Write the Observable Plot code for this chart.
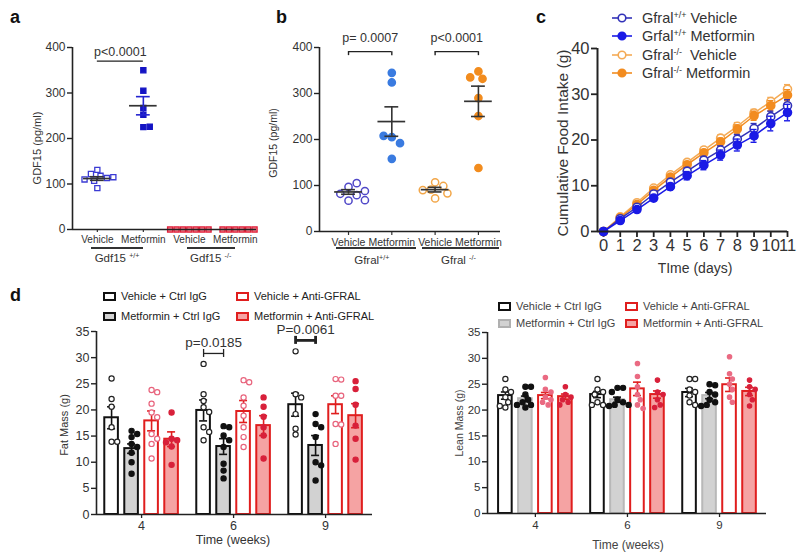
<!DOCTYPE html>
<html><head><meta charset="utf-8">
<script src="https://cdn.jsdelivr.net/npm/d3@7"></script>
<script src="https://cdn.jsdelivr.net/npm/@observablehq/plot@0.6"></script>
<style>
body{margin:0;background:#fff}
#root{position:relative;width:800px;height:560px;overflow:hidden;background:#fff;font-family:"Liberation Sans",Arial,Helvetica,sans-serif;color:#333}
sup{font-size:0.62em;vertical-align:0.55em;line-height:0}
</style></head>
<body><div id="root"></div>
<script>
// ---------------- DATA ----------------
// Panel a
const aCats = ["Vehicle", "Metformin", "Vehicle", "Metformin"];
const aGroups = ["Gdf15 <sup>+/+</sup>", "Gdf15 <sup>-/-</sup>"];
const aWtVeh = [131, 118, 122, 113, 110, 107, 91, 115];
const aWtMet = [350, 305, 267, 252, 225, 226];
const aKoVeh = [0, 0, 0, 0, 0, 0, 0];
const aKoMet = [0, 0, 0, 0, 0, 0];
const aMean = [112, 272, 0, 0];
const aSem = [4, 20, 0, 0];
const aYTicks = [0, 100, 200, 300, 400];
const aSig = [{a: 0, b: 1, y: 370, label: "p<0.0001"}];

// Panel b
const bCats = ["Vehicle", "Metformin", "Vehicle", "Metformin"];
const bGroups = ["Gfral<sup>+/+</sup>", "Gfral <sup>-/-</sup>"];
const bWtVeh = [97, 67, 79, 82, 105, 88, 68];
const bWtMet = [345, 324, 205, 192, 208, 158];
const bKoVeh = [107, 99, 91, 72, 83, 90];
const bKoMet = [348, 332, 335, 290, 251, 138];
const bMean = [86, 239, 91, 283];
const bSem = [5, 32, 5, 33];
const bYTicks = [0, 100, 200, 300, 400];
const bSig = [{a: 0, b: 1, y: 391, label: "p= 0.0007"}, {a: 2, b: 3, y: 391, label: "p<0.0001"}];

// Panel c
const cDays = [0, 1, 2, 3, 4, 5, 6, 7, 8, 9, 10, 11];
const cNames = ["Gfral<sup>+/+</sup> Vehicle", "Grfal<sup>+/+</sup> Metformin", "Gfral<sup>-/-</sup>&nbsp; Vehicle", "Gfral<sup>-/-</sup> Metformin"];
const cWtVeh = [0, 2.8, 5.3, 8.2, 10.8, 13.2, 15.6, 17.8, 20.2, 22.5, 25.1, 27.5];
const cWtMet = [0, 2.4, 4.8, 7.3, 9.8, 12.2, 14.5, 16.7, 18.9, 20.9, 23.6, 26.0];
const cKoVeh = [0, 3.2, 6.3, 9.5, 12.4, 15.1, 17.8, 20.4, 23.0, 25.9, 28.4, 31.1];
const cKoMet = [0, 3.0, 5.9, 9.0, 11.9, 14.6, 17.2, 19.6, 22.4, 25.3, 27.5, 29.8];
const cWtVehSem = [0, 0.3, 0.4, 0.5, 0.6, 0.7, 0.8, 0.9, 1.0, 1.1, 1.2, 1.3];
const cWtMetSem = [0, 0.4, 0.5, 0.6, 0.7, 0.9, 1.0, 1.1, 1.3, 1.4, 1.6, 1.8];
const cKoVehSem = [0, 0.3, 0.3, 0.4, 0.5, 0.5, 0.6, 0.7, 0.8, 0.8, 0.9, 1.0];
const cKoMetSem = [0, 0.3, 0.4, 0.5, 0.5, 0.6, 0.7, 0.8, 0.9, 1.0, 1.1, 1.2];
const cYTicks = [0, 10, 20, 30, 40];

// Panel d
const dWeeks = ["4", "6", "9"];
const dSeries = ["Vehicle + Ctrl IgG", "Metformin + Ctrl IgG", "Vehicle + Anti-GFRAL", "Metformin + Anti-GFRAL"];
const dYTicks = [0, 5, 10, 15, 20, 25, 30, 35];
const fatMean = [[18.5, 12.6, 17.9, 14.4], [19.9, 13.0, 19.7, 17.0], [21.0, 13.2, 21.0, 18.9]];
const fatSem = [[2.1, 0.9, 1.9, 1.4], [2.0, 1.5, 2.1, 1.9], [2.2, 1.9, 1.7, 2.3]];
const fatPoints = [
  [[26.0, 22.1, 20.6, 16.7, 13.9, 13.9], [16.0, 15.4, 14.8, 13.5, 12.9, 11.8, 10.0, 7.8], [23.8, 23.4, 21.2, 19.5, 18.6, 15.4, 14.5, 13.5, 10.7], [19.5, 14.5, 14.2, 13.8, 13.0, 9.5]],
  [[28.8, 23.0, 21.7, 20.5, 19.6, 16.7, 15.8, 14.2], [16.9, 16.7, 15.1, 14.2, 12.9, 9.7, 8.4, 6.9], [25.7, 25.3, 22.4, 20.8, 18.9, 16.7, 14.8, 12.9], [22.4, 20.6, 18.7, 16.7, 15.1, 10.7]],
  [[31.2, 23.0, 22.4, 19.2, 16.4, 15.3], [19.2, 17.3, 16.7, 14.8, 10.0, 9.4, 6.5], [25.9, 25.8, 22.7, 22.7, 17.3, 17.2, 13.5], [25.5, 24.0, 21.0, 17.0, 14.5, 10.5]]
];
const fatSig = [{g: 1, a: 0, b: 1, y: 30.8, label: "p=0.0185", w: 1.3}, {g: 2, a: 0, b: 1, y: 33.3, label: "P=0.0061", w: 2.8}];
const leanMean = [[22.8, 22.2, 22.8, 22.6], [23.0, 22.0, 24.1, 23.0], [23.4, 22.8, 24.9, 23.6]];
const leanSem = [[0.7, 0.5, 0.6, 0.5], [0.6, 0.5, 1.3, 0.7], [0.8, 0.6, 1.3, 0.8]];
const leanPoints = [
  [[26.0, 24.0, 23.5, 22.5, 21.5, 20.5, 20.8], [24.5, 24.5, 23.0, 22.0, 21.5, 21.0, 21.0, 20.5], [26.3, 24.0, 23.5, 22.5, 22.0, 21.5, 21.0], [24.5, 23.0, 22.5, 22.0, 21.5, 21.0]],
  [[26.0, 24.0, 23.5, 23.0, 21.5, 21.0, 21.0], [24.3, 24.3, 23.5, 22.0, 21.5, 21.0, 21.0, 20.8], [29.0, 26.5, 24.5, 23.0, 22.0, 21.0, 20.3], [25.8, 23.5, 23.0, 22.0, 21.0, 20.5]],
  [[26.0, 26.0, 24.0, 23.5, 22.8, 21.5, 21.0], [25.0, 24.8, 23.5, 23.0, 22.0, 21.5, 21.0, 20.8], [30.3, 27.0, 26.0, 25.0, 24.0, 22.5, 21.5], [25.8, 24.5, 24.0, 23.0, 22.0, 20.8]]
];

// ---------------- HELPERS ----------------
const FONT = '"Liberation Sans", Arial, Helvetica, sans-serif';
const root = document.getElementById("root");
function put(node, left, top) { node.style.position = "absolute"; node.style.left = left + "px"; node.style.top = top + "px"; root.appendChild(node); return node; }
function txt(html, x, y, css = {}, center = false) {
  const el = document.createElement("div");
  el.innerHTML = html;
  Object.assign(el.style, {position: "absolute", left: x + "px", top: y + "px", whiteSpace: "nowrap", lineHeight: "1",
    transform: center ? "translate(-50%,-50%)" : "translate(0,-50%)"}, css);
  root.appendChild(el); return el;
}
function vtxt(html, x, y, css = {}) { const el = txt(html, x, y, css, true); el.style.transform = "translate(-50%,-50%) rotate(-90deg)"; return el; }
function hline(x1, x2, y, color = "#333", w = 1.3) {
  const el = document.createElement("div");
  Object.assign(el.style, {position: "absolute", left: x1 + "px", top: (y - w / 2) + "px", width: (x2 - x1) + "px", height: w + "px", background: color});
  root.appendChild(el);
}
// simple beeswarm: horizontal pixel offsets so that points do not overlap
function swarm(vals, pxPerY, d) {
  const placed = [];
  return vals.map(v => {
    const y = v * pxPerY;
    for (let k = 0; k < 400; k++) {
      const off = (k % 2 ? 1 : -1) * Math.ceil(k / 2) * d / 2;
      if (placed.every(p => Math.hypot(p.x - off, p.y - y) >= d)) { placed.push({x: off, y}); return off; }
    }
    return 0;
  });
}
const baseStyle = {fontFamily: FONT, fontSize: "12px", color: "#333", overflow: "visible", background: "none"};

// ---------------- PANEL A ----------------
{
  const W = 270, H = 270, mL = 72, mR = 14, mT = 47, mB = 41;
  const xd = [-0.54, 3.46];
  const pxX = (W - mL - mR) / (xd[1] - xd[0]);
  const pxY = (H - mT - mB) / 400;
  const groups = [aWtVeh, aWtMet, aKoVeh, aKoMet];
  const styles = [
    {fill: "white", stroke: "#3b3bd4"}, {fill: "#1414c4", stroke: "#1414c4"},
    {fill: "#f07a88", stroke: "#e0203a"}, {fill: "#f07a88", stroke: "#e0203a"}];
  const semColor = ["#333", "#2424d0", "#333", "#333"];
  const dotMarks = groups.map((vals, i) => {
    const offs = swarm(vals, pxY, 6.4);
    const data = vals.map((v, j) => ({x: i + offs[j] / pxX, v}));
    return Plot.dot(data, {x: "x", y: "v", symbol: "square", r: 2.9, strokeWidth: 1.3, ...styles[i]});
  });
  const md = aMean.map((m, i) => ({i, m, s: aSem[i], c: semColor[i]}));
  const p = Plot.plot({
    width: W, height: H, marginLeft: mL, marginRight: mR, marginTop: mT, marginBottom: mB,
    x: {domain: xd, axis: null}, y: {domain: [0, 400], axis: null}, style: baseStyle,
    marks: [
      Plot.axisY({ticks: aYTicks, tickSize: 5, strokeWidth: 1.4, stroke: "#222", fontSize: 12, tickPadding: 2, label: null}),
      Plot.axisX({ticks: [0, 1, 2, 3], tickFormat: i => aCats[i], tickSize: 3, strokeWidth: 1.2, fontSize: 10, tickPadding: 3, label: null}),
      ...dotMarks,
      ...md.filter(d => d.m > 0).map(d => Plot.ruleY([d], {x1: d.i - 0.3, x2: d.i + 0.3, y: "m", stroke: "#333", strokeWidth: 1.7})),
      ...md.filter(d => d.m > 0).map(d => Plot.ruleX([d], {x: "i", y1: d.m - d.s, y2: d.m + d.s, stroke: d.c, strokeWidth: 1.6})),
      ...md.filter(d => d.m > 0).map(d => Plot.ruleY([d.m - d.s, d.m + d.s], {x1: d.i - 0.15, x2: d.i + 0.15, stroke: d.c, strokeWidth: 1.6})),
      Plot.ruleY(aSig, {x1: "a", x2: "b", y: "y", stroke: "#222", strokeWidth: 1.4}),
      Plot.text(aSig, {x: d => (d.a + d.b) / 2, y: d => d.y + 20, text: "label", fontSize: 12.5, fill: "#333"}),
      Plot.ruleY([0], {stroke: "#222", strokeWidth: 1.6}),
      Plot.ruleX([xd[0]], {y1: 0, y2: 400, stroke: "#222", strokeWidth: 1.6})
    ]
  });
  put(p, 0, 0);
  const sx = p.scale("x");
  const spans = [[-0.12, 1.0], [1.95, 3.0]];
  spans.forEach((s, k) => {
    const x1 = sx.apply(s[0]), x2 = sx.apply(s[1]);
    hline(x1, x2, 248, "#333", 1.3);
    txt(aGroups[k], (x1 + x2) / 2, 259, {fontSize: "11.5px", color: "#333"}, true);
  });
  vtxt("GDF15 (pg/ml)", 37, 148, {fontSize: "11px", color: "#333"});
  txt("a", 10, 17, {fontSize: "18px", fontWeight: "bold", color: "#111"});
}

// ---------------- PANEL B ----------------
{
  const L = 260, W = 260, H = 270, mL = 59, mR = 20, mT = 47, mB = 39;
  const xd = [-0.67, 3.51];
  const pxX = (W - mL - mR) / (xd[1] - xd[0]);
  const pxY = (H - mT - mB) / 400;
  const groups = [bWtVeh, bWtMet, bKoVeh, bKoMet];
  const styles = [
    {fill: "white", stroke: "#5048c8"}, {fill: "#3a7be0", stroke: "#3a7be0"},
    {fill: "white", stroke: "#f2a648"}, {fill: "#f28c1e", stroke: "#f28c1e"}];
  const dotMarks = groups.map((vals, i) => {
    const offs = swarm(vals, pxY, 8.2);
    const data = vals.map((v, j) => ({x: i + offs[j] / pxX, v}));
    return Plot.dot(data, {x: "x", y: "v", r: 3.6, strokeWidth: 1.5, ...styles[i]});
  });
  const md = bMean.map((m, i) => ({i, m, s: bSem[i]}));
  const tk = 4 / pxY;
  const p = Plot.plot({
    width: W, height: H, marginLeft: mL, marginRight: mR, marginTop: mT, marginBottom: mB,
    x: {domain: xd, axis: null}, y: {domain: [0, 400], axis: null}, style: baseStyle,
    marks: [
      Plot.axisY({ticks: bYTicks, tickSize: 5, strokeWidth: 1.4, stroke: "#222", fontSize: 12, tickPadding: 2, label: null}),
      Plot.axisX({ticks: [0, 1, 2, 3], tickFormat: i => bCats[i], tickSize: 4, strokeWidth: 1.2, fontSize: 10.5, tickPadding: 3, label: null}),
      ...dotMarks,
      Plot.ruleY(md, {x1: d => d.i - 0.32, x2: d => d.i + 0.32, y: "m", stroke: "#333", strokeWidth: 1.7}),
      Plot.ruleX(md, {x: "i", y1: d => d.m - d.s, y2: d => d.m + d.s, stroke: "#333", strokeWidth: 1.6}),
      Plot.ruleY(md, {x1: d => d.i - 0.16, x2: d => d.i + 0.16, y: d => d.m - d.s, stroke: "#333", strokeWidth: 1.6}),
      Plot.ruleY(md, {x1: d => d.i - 0.16, x2: d => d.i + 0.16, y: d => d.m + d.s, stroke: "#333", strokeWidth: 1.6}),
      Plot.ruleY(bSig, {x1: "a", x2: "b", y: "y", stroke: "#222", strokeWidth: 1.4}),
      Plot.ruleX(bSig, {x: "a", y1: "y", y2: d => d.y - tk, stroke: "#222", strokeWidth: 1.4}),
      Plot.ruleX(bSig, {x: "b", y1: "y", y2: d => d.y - tk, stroke: "#222", strokeWidth: 1.4}),
      Plot.text(bSig, {x: d => (d.a + d.b) / 2, y: d => d.y + 30, text: "label", fontSize: 12.5, fill: "#333"}),
      Plot.ruleY([0], {stroke: "#222", strokeWidth: 1.6}),
      Plot.ruleX([xd[0]], {y1: 0, y2: 400, stroke: "#222", strokeWidth: 1.6})
    ]
  });
  put(p, L, 0);
  const sx = p.scale("x");
  const spans = [[-0.27, 1.57], [1.72, 3.48]];
  const lbl = [0.55, 2.55];
  spans.forEach((s, k) => {
    const x1 = L + sx.apply(s[0]), x2 = L + sx.apply(s[1]);
    hline(x1, x2, 248, "#333", 1.3);
    txt(bGroups[k], L + sx.apply(lbl[k]), 261, {fontSize: "11.5px", color: "#333"}, true);
  });
  vtxt("GDF15 (pg/ml)", 273, 143, {fontSize: "10.5px", color: "#333"});
  txt("b", 276, 17, {fontSize: "18px", fontWeight: "bold", color: "#111"});
}

// ---------------- PANEL C ----------------
{
  const L = 520, W = 280, H = 280, mL = 77, mR = 13, mT = 48, mB = 49;
  const xd = [-0.36, 11];
  const series = [
    {v: cKoVeh, s: cKoVehSem, color: "#f4aa55", open: true},
    {v: cKoMet, s: cKoMetSem, color: "#f28c20", open: false},
    {v: cWtVeh, s: cWtVehSem, color: "#3232b8", open: true},
    {v: cWtMet, s: cWtMetSem, color: "#1a1ae6", open: false}];
  const marks = [];
  series.forEach(se => {
    const data = cDays.map((d, i) => ({d, v: se.v[i], s: se.s[i]}));
    marks.push(Plot.ruleX(data.filter(r => r.s > 0), {x: "d", y1: r => r.v - r.s, y2: r => r.v + r.s, stroke: se.color, strokeWidth: 1.4}));
    marks.push(Plot.ruleY(data.filter(r => r.s > 0), {x1: r => r.d - 0.18, x2: r => r.d + 0.18, y: r => r.v - r.s, stroke: se.color, strokeWidth: 1.4}));
    marks.push(Plot.ruleY(data.filter(r => r.s > 0), {x1: r => r.d - 0.18, x2: r => r.d + 0.18, y: r => r.v + r.s, stroke: se.color, strokeWidth: 1.4}));
    marks.push(Plot.line(data, {x: "d", y: "v", stroke: se.color, strokeWidth: 1.5}));
    marks.push(Plot.dot(data, {x: "d", y: "v", r: 4, stroke: se.color, strokeWidth: 1.6, fill: se.open ? "white" : se.color}));
  });
  const p = Plot.plot({
    width: W, height: H, marginLeft: mL, marginRight: mR, marginTop: mT, marginBottom: mB,
    x: {domain: xd, axis: null}, y: {domain: [0, 40], axis: null}, style: baseStyle,
    marks: [
      Plot.axisY({ticks: cYTicks, tickSize: 6, strokeWidth: 1.8, stroke: "#222", fontSize: 16.5, tickPadding: 2, label: null}),
      Plot.axisX({ticks: cDays, tickSize: 6, strokeWidth: 1.8, stroke: "#222", fontSize: 16.5, tickPadding: 2, label: null}),
      ...marks,
      Plot.ruleY([0], {stroke: "#222", strokeWidth: 2}),
      Plot.ruleX([xd[0]], {y1: 0, y2: 40, stroke: "#222", strokeWidth: 2})
    ]
  });
  put(p, L, 0);
  vtxt("Cumulative Food Intake (g)", 563, 143, {fontSize: "15.5px", color: "#333"});
  txt("TIme (days)", 695, 268, {fontSize: "14px", color: "#333"}, true);
  txt("c", 536, 17, {fontSize: "18px", fontWeight: "bold", color: "#111"});
  const legSeries = [series[2], series[3], series[0], series[1]];
  const rows = [18, 36, 55, 73];
  legSeries.forEach((se, k) => {
    const ns = "http://www.w3.org/2000/svg";
    const svg = document.createElementNS(ns, "svg");
    svg.setAttribute("width", 22); svg.setAttribute("height", 12);
    svg.innerHTML = `<line x1="1" y1="6" x2="21" y2="6" stroke="${se.color}" stroke-width="1.6"/><circle cx="11" cy="6" r="3.8" stroke="${se.color}" stroke-width="1.6" fill="${se.open ? "white" : se.color}"/>`;
    put(svg, 611, rows[k] - 6);
    txt(cNames[k], 642, rows[k], {fontSize: "14.5px", color: "#333"});
  });
}

// ---------------- PANEL D ----------------
function barPanel(cfg) {
  const {L, T, W, H, mL, mR, mT, mB, xd, means, sems, points, sig, grayStroke, redOpen, tickFont} = cfg;
  const pxX = (W - mL - mR) / (xd[1] - xd[0]);
  const pxY = (H - mT - mB) / 35;
  const step = 20 / pxX, hw = 6.8 / pxX, cap = 4 / pxX;
  const barFill = ["white", "#d2d2d2", "white", "#f5a3a3"];
  const barStroke = ["#111", grayStroke, "#e01e1e", "#e01e1e"];
  const errStroke = ["#111", "#111", "#e01e1e", "#e01e1e"];
  const dotStyle = [
    {fill: "white", stroke: "#222", r: 2.6},
    {fill: "#111", stroke: "#111", r: 2.6},
    redOpen ? {fill: "white", stroke: "#e8637c", r: 2.6} : {fill: "#ea6a82", stroke: "#ea6a82", r: 2.2},
    {fill: "#d8203a", stroke: "#d8203a", r: redOpen ? 2.6 : 2.2}];
  const bars = [];
  means.forEach((row, g) => row.forEach((m, k) => bars.push({g, k, m, s: sems[g][k], c: g + (k - 1.5) * step})));
  const marks = [];
  for (let k = 0; k < 4; k++) {
    const bk = bars.filter(b => b.k === k);
    marks.push(Plot.rect(bk, {x1: b => b.c - hw, x2: b => b.c + hw, y1: 0, y2: "m", fill: barFill[k], stroke: barStroke[k], strokeWidth: 2}));
  }
  for (let k = 0; k < 4; k++) {
    const bk = bars.filter(b => b.k === k);
    marks.push(Plot.ruleX(bk, {x: "c", y1: b => b.m - b.s, y2: b => b.m + b.s, stroke: errStroke[k], strokeWidth: 1.6}));
    marks.push(Plot.ruleY(bk, {x1: b => b.c - cap, x2: b => b.c + cap, y: b => b.m + b.s, stroke: errStroke[k], strokeWidth: 1.6}));
    marks.push(Plot.ruleY(bk, {x1: b => b.c - cap, x2: b => b.c + cap, y: b => b.m - b.s, stroke: errStroke[k], strokeWidth: 1.6}));
  }
  for (let k = 0; k < 4; k++) {
    const pts = [];
    points.forEach((row, g) => {
      const vals = row[k];
      const offs = swarm(vals, pxY, 5.6);
      vals.forEach((v, j) => pts.push({x: g + (k - 1.5) * step + offs[j] / pxX, v}));
    });
    marks.push(Plot.dot(pts, {x: "x", y: "v", strokeWidth: 1.2, ...dotStyle[k]}));
  }
  if (sig) {
    const tk = 4 / pxY;
    const sd = sig.map(s => ({...s, x1: s.g + (s.a - 1.5) * step, x2: s.g + (s.b - 1.5) * step}));
    sd.forEach(s => {
      marks.push(Plot.ruleY([s], {x1: "x1", x2: "x2", y: "y", stroke: "#222", strokeWidth: s.w}));
      marks.push(Plot.ruleX([s], {x: "x1", y1: s.y - tk, y2: s.y + tk, stroke: "#222", strokeWidth: s.w}));
      marks.push(Plot.ruleX([s], {x: "x2", y1: s.y - tk, y2: s.y + tk, stroke: "#222", strokeWidth: s.w}));
      marks.push(Plot.text([s], {x: d => (d.x1 + d.x2) / 2, y: d => d.y + 2.1, text: "label", fontSize: 13.5, fill: "#333"}));
    });
  }
  const p = Plot.plot({
    width: W, height: H, marginLeft: mL, marginRight: mR, marginTop: mT, marginBottom: mB,
    x: {domain: xd, axis: null}, y: {domain: [0, 35], axis: null}, style: baseStyle,
    marks: [
      Plot.axisY({ticks: dYTicks, tickSize: 5, strokeWidth: 1.4, stroke: "#222", fontSize: tickFont, tickPadding: 2, label: null}),
      Plot.axisX({ticks: [0, 1, 2], tickFormat: i => dWeeks[i], tickSize: 4, strokeWidth: 1.3, stroke: "#222", fontSize: tickFont, tickPadding: 3, label: null}),
      ...marks,
      Plot.ruleY([0], {stroke: "#222", strokeWidth: 1.6}),
      Plot.ruleX([xd[0]], {y1: 0, y2: 35, stroke: "#222", strokeWidth: 1.6})
    ]
  });
  put(p, L, T);
  return p;
}
function barLegend(x1, x2, rows, grayStroke, font, color) {
  const fills = ["white", "#d2d2d2", "white", "#f5a3a3"];
  const strokes = ["#111", grayStroke, "#e01e1e", "#e01e1e"];
  dSeries.forEach((name, k) => {
    const x = k < 2 ? x1 : x2, y = rows[k % 2];
    const sw = document.createElement("div");
    Object.assign(sw.style, {position: "absolute", left: x + "px", top: (y - 4.5) + "px", width: "9px", height: "5px", border: "2px solid " + strokes[k], background: fills[k]});
    root.appendChild(sw);
    txt(name, x + 18, y, {fontSize: font, color});
  });
}
// Fat mass
barPanel({L: 0, T: 280, W: 400, H: 280, mL: 96, mR: 28, mT: 51, mB: 46, xd: [-0.49, 2.51],
  means: fatMean, sems: fatSem, points: fatPoints, sig: fatSig, grayStroke: "#111", redOpen: true, tickFont: 12.5});
barLegend(103, 236, [296, 316], "#111", "11px", "#222");
vtxt("Fat Mass (g)", 64, 425, {fontSize: "11px", color: "#333"});
txt("Time (weeks)", 233, 540, {fontSize: "12.5px", color: "#333"}, true);
txt("d", 10, 295, {fontSize: "18px", fontWeight: "bold", color: "#111"});
// Lean mass
barPanel({L: 400, T: 280, W: 400, H: 280, mL: 87, mR: 34, mT: 52, mB: 47, xd: [-0.52, 2.51],
  means: leanMean, sems: leanSem, points: leanPoints, sig: null, grayStroke: "#b8b8b8", redOpen: false, tickFont: 11.5});
barLegend(498, 625, [306, 323], "#b0b0b0", "11px", "#444");
vtxt("Lean Mass (g)", 459, 423, {fontSize: "10.5px", color: "#444"});
txt("Time (weeks)", 628, 545, {fontSize: "12px", color: "#444"}, true);
</script></body></html>
